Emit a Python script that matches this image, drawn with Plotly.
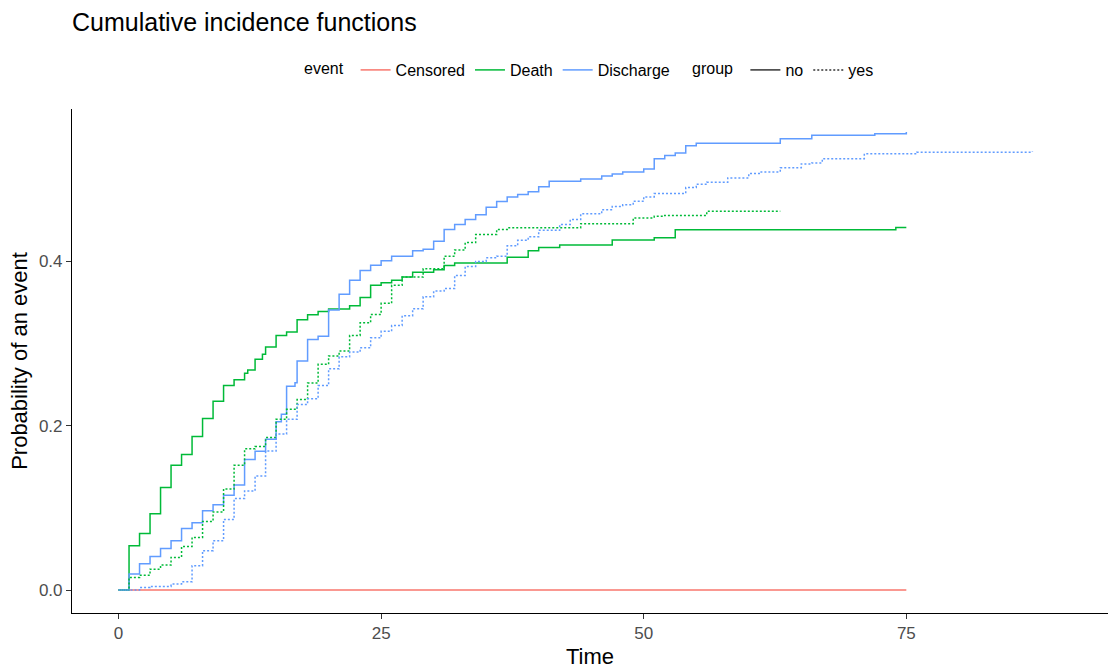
import plotly.graph_objects as go

# ---- data ----
censored_no_t = [0, 75]
censored_no_p = [0.0, 0.0]

death_no_t = [0, 1, 2, 3, 4, 5, 6, 7, 8, 9, 10, 11, 12, 12.3, 13, 13.7, 14, 15, 16, 17, 18, 19, 20,
              22, 23, 24, 25, 26, 27, 28, 30, 31, 32, 37, 39, 40, 42, 47, 51, 53, 74, 75]
death_no_p = [0.0, 0.054, 0.069, 0.093, 0.125, 0.152, 0.165, 0.187, 0.209, 0.230, 0.249, 0.256, 0.264,
              0.268, 0.281, 0.287, 0.296, 0.310, 0.314, 0.329, 0.335, 0.339, 0.342, 0.346, 0.356,
              0.371, 0.374, 0.377, 0.381, 0.387, 0.390, 0.395, 0.398, 0.405, 0.413, 0.417, 0.420,
              0.426, 0.429, 0.4385, 0.4413, 0.4413]

discharge_no_t = [0, 1, 2, 3, 4, 5, 6, 7, 8, 9, 10, 11, 12, 13, 14, 15, 15.5, 16, 16.8, 17, 18, 19,
                  20, 21, 22, 23, 24, 25, 26, 28, 29, 30, 31, 32, 33, 34, 35, 36, 37, 38, 39, 40,
                  41, 44, 46, 47, 48, 50, 51, 52, 53, 54, 55, 63, 66, 72, 75]
discharge_no_p = [0.0, 0.0195, 0.032, 0.041, 0.0507, 0.060, 0.075, 0.082, 0.0965, 0.104, 0.1155,
                  0.128, 0.159, 0.169, 0.1836, 0.205, 0.214, 0.248, 0.2525, 0.279, 0.305, 0.309,
                  0.341, 0.360, 0.377, 0.389, 0.3955, 0.401, 0.4065, 0.413, 0.415, 0.4247, 0.439,
                  0.445, 0.451, 0.457, 0.466, 0.473, 0.4786, 0.4815, 0.485, 0.491, 0.4977, 0.5005,
                  0.504, 0.5066, 0.509, 0.5126, 0.525, 0.529, 0.532, 0.541, 0.544, 0.5495, 0.5536,
                  0.5556, 0.5577]

death_yes_t = [0, 1, 2, 3, 4, 5, 6, 7, 8, 9, 10, 11, 12, 13, 14, 15, 16, 17, 18, 19, 20, 21, 22,
               23, 24, 25, 26, 27, 29, 31, 32, 33, 34, 36, 37, 44, 49, 51, 52, 56, 63]
death_yes_p = [0.0, 0.0154, 0.018, 0.0255, 0.0304, 0.0397, 0.053, 0.064, 0.0835, 0.095, 0.123,
               0.152, 0.172, 0.1747, 0.1856, 0.208, 0.220, 0.232, 0.252, 0.2748, 0.285, 0.291,
               0.310, 0.3255, 0.3356, 0.349, 0.371, 0.381, 0.391, 0.4065, 0.414, 0.423, 0.4328,
               0.439, 0.441, 0.446, 0.453, 0.455, 0.456, 0.461, 0.461]

discharge_yes_t = [0, 2, 3, 5, 6, 7, 8, 9, 10, 11, 12, 13, 14, 15, 16, 17, 18, 19, 20, 21, 22, 23,
                   24, 25, 26, 27, 28, 29, 30, 31, 32, 33, 34, 35, 36, 37, 38, 39, 40, 42, 43, 44,
                   46, 47, 48, 49, 50, 51, 54, 55, 56, 58, 60, 61, 63, 65, 66, 67, 71, 76, 87]
discharge_yes_p = [0.0, 0.003, 0.0045, 0.0073, 0.010, 0.0296, 0.048, 0.060, 0.086, 0.1115, 0.1207,
                   0.139, 0.1694, 0.190, 0.208, 0.226, 0.233, 0.249, 0.2695, 0.284, 0.2897, 0.295,
                   0.307, 0.315, 0.322, 0.334, 0.3425, 0.357, 0.364, 0.367, 0.383, 0.394, 0.400,
                   0.4045, 0.4065, 0.419, 0.4257, 0.430, 0.438, 0.445, 0.451, 0.458, 0.463, 0.467,
                   0.469, 0.4733, 0.4786, 0.4827, 0.490, 0.494, 0.4964, 0.5017, 0.507, 0.509,
                   0.514, 0.5187, 0.520, 0.525, 0.531, 0.533, 0.534]

event_levels = ["Censored", "Death", "Discharge"]
group_levels = ["no", "yes"]
x_ticks = [0, 25, 50, 75]
y_ticks = [0.0, 0.2, 0.4]
y_tick_labels = ["0.0", "0.2", "0.4"]

# ---- styling ----
colors = {"Censored": "#F8766D", "Death": "#00BA38", "Discharge": "#619CFF"}
dashes = {"no": "solid", "yes": "2px,2px"}
FONT = "Liberation Sans, Arial, sans-serif"
LW = 1.5

curves = [
    ("Censored", "no", censored_no_t, censored_no_p),
    ("Death", "no", death_no_t, death_no_p),
    ("Discharge", "no", discharge_no_t, discharge_no_p),
    ("Death", "yes", death_yes_t, death_yes_p),
    ("Discharge", "yes", discharge_yes_t, discharge_yes_p),
]

fig = go.Figure()
for ev, grp, t, p in curves:
    fig.add_trace(go.Scatter(
        x=t, y=p, mode="lines", line_shape="hv",
        line=dict(color=colors[ev], width=LW, dash=dashes[grp]),
        showlegend=False, hoverinfo="x+y", name=f"{ev} ({grp})"))

# legend entries: event (colour)
for ev in event_levels:
    fig.add_trace(go.Scatter(x=[None], y=[None], mode="lines", name=ev,
                             line=dict(color=colors[ev], width=LW), legend="legend"))
# legend entries: group (linetype)
for grp in group_levels:
    fig.add_trace(go.Scatter(x=[None], y=[None], mode="lines", name=grp,
                             line=dict(color="#333333", width=LW, dash=dashes[grp]),
                             legend="legend2"))

LEG_Y = (613 - 70) / 504

fig.update_layout(
    width=1108, height=669,
    paper_bgcolor="white", plot_bgcolor="white",
    margin=dict(l=72, r=0, t=109, b=56),
    font=dict(family=FONT, color="black"),
    title=dict(text="Cumulative incidence functions", x=72 / 1108, xanchor="left",
               y=1 - 22 / 669, yanchor="middle", font=dict(size=25, color="black")),
    xaxis=dict(range=[-4.43, 94.2], tickvals=x_ticks, ticks="outside", ticklen=5,
               tickcolor="#333333", tickwidth=1.1, showgrid=False, zeroline=False,
               showline=True, linecolor="black", linewidth=1.1,
               tickfont=dict(size=17, color="#4d4d4d", family=FONT),
               title=dict(text="Time", font=dict(size=22, color="black"), standoff=6)),
    yaxis=dict(range=[-0.0279, 0.5856], tickvals=y_ticks, ticktext=y_tick_labels,
               ticks="outside", ticklen=5, tickcolor="#333333", tickwidth=1.1,
               showgrid=False, zeroline=False, showline=True, linecolor="black",
               linewidth=1.1, tickfont=dict(size=17, color="#4d4d4d", family=FONT),
               title=dict(text="Probability of an event", font=dict(size=22, color="black"),
                          standoff=5)),
    legend=dict(orientation="h", x=(302 - 72) / 1036, xanchor="left",
                y=LEG_Y, yanchor="middle",
                title=dict(text="event ", side="left", font=dict(size=16)),
                font=dict(size=16, color="black"), bgcolor="rgba(0,0,0,0)",
                itemwidth=30, tracegroupgap=0),
    legend2=dict(orientation="h", x=(690 - 72) / 1036, xanchor="left",
                 y=LEG_Y, yanchor="middle",
                 title=dict(text="group ", side="left", font=dict(size=16)),
                 font=dict(size=16, color="black"), bgcolor="rgba(0,0,0,0)",
                 itemwidth=30),
)

fig.write_html("out.html", post_script="document.body.style.margin='0';",
               config={"displayModeBar": False})
